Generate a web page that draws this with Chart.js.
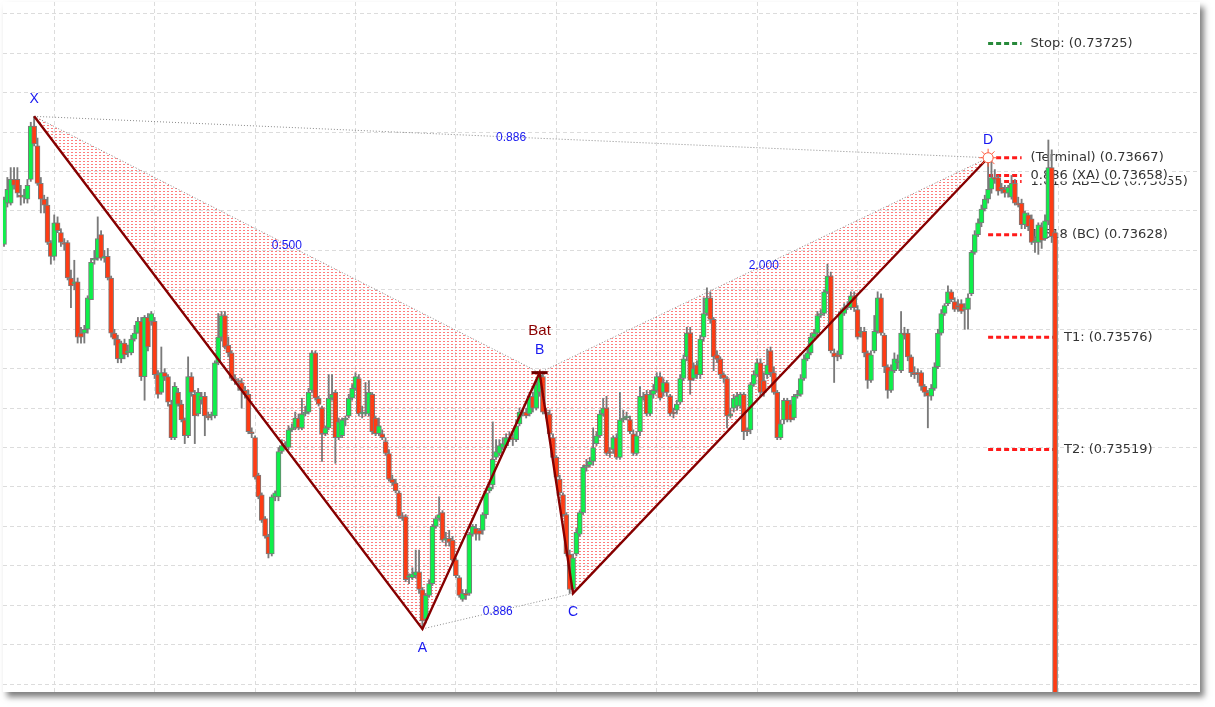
<!DOCTYPE html>
<html>
<head>
<meta charset="utf-8">
<script src="https://cdn.jsdelivr.net/npm/chart.js@4.4.1/dist/chart.umd.min.js"></script>
<style>
  html, body { margin: 0; padding: 0; background: #fff; }
  #frame {
    position: absolute; left: 3px; top: 2px; width: 1197px; height: 690px;
    background: #fff; box-shadow: 4px 5px 6px rgba(0, 0, 0, 0.5);
  }
  canvas { display: block; }
</style>
</head>
<body>
<div id="frame"><canvas id="bat-chart" width="1197" height="690"></canvas></div>
<script>
// candles, one per bar (bar 0 is the left-most one)
let opens = [
  0.73623,0.73644,0.73644,0.73656,0.73656,0.73648,0.73647,0.73646,0.73656,0.73683,
  0.73673,0.73654,0.73646,0.73643,0.73624,0.73617,0.73634,0.73629,0.73624,0.73624,
  0.73606,0.73603,0.73604,0.73578,0.73578,0.73580,0.73595,0.73615,0.73616,0.73628,
  0.73616,0.73617,0.73606,0.73578,0.73575,0.73565,0.73573,0.73568,0.73568,0.73575,
  0.73578,0.73584,0.73556,0.73586,0.73584,0.73584,0.73557,0.73548,0.73558,0.73556,
  0.73542,0.73525,0.73548,0.73542,0.73534,0.73526,0.73556,0.73547,0.73537,0.73544,
  0.73546,0.73536,0.73536,0.73536,0.73563,0.73576,0.73587,0.73572,0.73568,0.73555,
  0.73554,0.73553,0.73549,0.73547,0.73528,0.73525,0.73506,0.73496,0.73484,0.73475,
  0.73466,0.73495,0.73495,0.73518,0.73520,0.73520,0.73529,0.73530,0.73535,0.73530,
  0.73537,0.73538,0.73549,0.73568,0.73545,0.73540,0.73527,0.73530,0.73545,0.73548,
  0.73525,0.73526,0.73534,0.73536,0.73545,0.73550,0.73555,0.73537,0.73537,0.73537,
  0.73547,0.73535,0.73527,0.73527,0.73523,0.73517,0.73504,0.73502,0.73497,0.73485,
  0.73485,0.73454,0.73454,0.73455,0.73457,0.73448,0.73433,0.73445,0.73451,0.73480,
  0.73484,0.73487,0.73473,0.73474,0.73473,0.73463,0.73454,0.73443,0.73446,0.73446,
  0.73476,0.73479,0.73478,0.73478,0.73486,0.73498,0.73501,0.73515,0.73517,0.73520,
  0.73521,0.73524,0.73525,0.73524,0.73532,0.73537,0.73538,0.73537,0.73546,0.73540,
  0.73548,0.73556,0.73538,0.73537,0.73525,0.73515,0.73504,0.73496,0.73486,0.73466,
  0.73448,0.73466,0.73476,0.73487,0.73510,0.73511,0.73513,0.73522,0.73526,0.73537,
  0.73540,0.73518,0.73519,0.73525,0.73515,0.73534,0.73535,0.73534,0.73527,0.73517,
  0.73528,0.73545,0.73547,0.73537,0.73547,0.73549,0.73556,0.73548,0.73553,0.73546,
  0.73538,0.73539,0.73543,0.73555,0.73566,0.73578,0.73555,0.73562,0.73557,0.73576,
  0.73588,0.73596,0.73585,0.73567,0.73565,0.73557,0.73555,0.73536,0.73540,0.73541,
  0.73541,0.73547,0.73529,0.73529,0.73552,0.73557,0.73563,0.73554,0.73557,0.73569,
  0.73558,0.73548,0.73525,0.73534,0.73544,0.73542,0.73535,0.73546,0.73547,0.73555,
  0.73565,0.73568,0.73576,0.73578,0.73587,0.73588,0.73599,0.73607,0.73568,0.73567,
  0.73567,0.73588,0.73591,0.73591,0.73597,0.73590,0.73578,0.73579,0.73568,0.73554,
  0.73569,0.73579,0.73596,0.73577,0.73561,0.73549,0.73559,0.73563,0.73559,0.73578,
  0.73578,0.73566,0.73558,0.73558,0.73558,0.73551,0.73548,0.73546,0.73550,0.73561,
  0.73578,0.73588,0.73593,0.73599,0.73594,0.73592,0.73593,0.73590,0.73590,0.73598,
  0.73619,0.73628,0.73634,0.73641,0.73646,0.73651,0.73657,0.73657,0.73652,0.73651,
  0.73649,0.73647,0.73654,0.73644,0.73644,0.73633,0.73638,0.73636,0.73624,0.73624,
  0.73632,0.73626,0.73635,0.73662,0.73629
];
let highs = [
  0.73647,0.73657,0.73662,0.73662,0.73662,0.73653,0.73651,0.73656,0.73685,0.73688,
  0.73677,0.73657,0.73648,0.73647,0.73625,0.73638,0.73637,0.73631,0.73626,0.73625,
  0.73610,0.73615,0.73606,0.73581,0.73582,0.73597,0.73616,0.73620,0.73637,0.73630,
  0.73620,0.73621,0.73607,0.73580,0.73577,0.73574,0.73575,0.73572,0.73577,0.73582,
  0.73586,0.73586,0.73587,0.73588,0.73589,0.73586,0.73559,0.73571,0.73560,0.73557,
  0.73544,0.73553,0.73550,0.73544,0.73535,0.73566,0.73558,0.73549,0.73550,0.73548,
  0.73548,0.73538,0.73538,0.73564,0.73588,0.73589,0.73589,0.73576,0.73569,0.73557,
  0.73555,0.73555,0.73551,0.73549,0.73530,0.73526,0.73507,0.73497,0.73485,0.73476,
  0.73496,0.73498,0.73520,0.73524,0.73523,0.73531,0.73532,0.73538,0.73537,0.73545,
  0.73541,0.73550,0.73569,0.73569,0.73546,0.73541,0.73531,0.73557,0.73557,0.73549,
  0.73535,0.73535,0.73536,0.73547,0.73552,0.73558,0.73557,0.73541,0.73553,0.73554,
  0.73548,0.73536,0.73535,0.73529,0.73525,0.73519,0.73506,0.73504,0.73498,0.73487,
  0.73486,0.73456,0.73459,0.73468,0.73468,0.73449,0.73446,0.73453,0.73481,0.73485,
  0.73495,0.73488,0.73477,0.73478,0.73475,0.73464,0.73455,0.73448,0.73448,0.73477,
  0.73481,0.73481,0.73479,0.73487,0.73498,0.73502,0.73533,0.73524,0.73524,0.73525,
  0.73527,0.73528,0.73527,0.73534,0.73540,0.73540,0.73540,0.73548,0.73548,0.73554,
  0.73558,0.73558,0.73540,0.73539,0.73527,0.73516,0.73506,0.73497,0.73487,0.73468,
  0.73466,0.73479,0.73488,0.73511,0.73514,0.73515,0.73530,0.73528,0.73539,0.73545,
  0.73546,0.73520,0.73526,0.73527,0.73548,0.73539,0.73538,0.73536,0.73529,0.73528,
  0.73551,0.73548,0.73549,0.73549,0.73552,0.73558,0.73558,0.73555,0.73554,0.73547,
  0.73540,0.73544,0.73557,0.73567,0.73581,0.73581,0.73563,0.73564,0.73577,0.73596,
  0.73601,0.73599,0.73586,0.73569,0.73566,0.73558,0.73556,0.73540,0.73547,0.73548,
  0.73548,0.73548,0.73530,0.73553,0.73559,0.73565,0.73565,0.73558,0.73570,0.73571,
  0.73561,0.73549,0.73534,0.73545,0.73545,0.73544,0.73547,0.73549,0.73557,0.73567,
  0.73570,0.73578,0.73580,0.73589,0.73590,0.73600,0.73613,0.73609,0.73570,0.73569,
  0.73590,0.73593,0.73594,0.73599,0.73599,0.73592,0.73581,0.73581,0.73569,0.73569,
  0.73587,0.73599,0.73598,0.73578,0.73562,0.73562,0.73568,0.73567,0.73589,0.73581,
  0.73580,0.73567,0.73561,0.73560,0.73559,0.73552,0.73549,0.73552,0.73563,0.73580,
  0.73590,0.73593,0.73602,0.73600,0.73596,0.73595,0.73595,0.73593,0.73598,0.73620,
  0.73630,0.73636,0.73643,0.73648,0.73667,0.73666,0.73661,0.73658,0.73654,0.73653,
  0.73653,0.73658,0.73656,0.73647,0.73646,0.73640,0.73639,0.73638,0.73627,0.73634,
  0.73634,0.73638,0.73676,0.73671,0.73630
];
let lows = [
  0.73622,0.73642,0.73643,0.73651,0.73647,0.73643,0.73644,0.73644,0.73655,0.73673,
  0.73653,0.73639,0.73639,0.73623,0.73613,0.73615,0.73629,0.73622,0.73620,0.73605,
  0.73591,0.73600,0.73573,0.73573,0.73573,0.73578,0.73595,0.73613,0.73615,0.73615,
  0.73614,0.73605,0.73576,0.73572,0.73563,0.73563,0.73565,0.73566,0.73567,0.73574,
  0.73578,0.73554,0.73544,0.73569,0.73582,0.73555,0.73545,0.73547,0.73554,0.73541,
  0.73524,0.73524,0.73541,0.73533,0.73522,0.73525,0.73546,0.73522,0.73536,0.73542,
  0.73526,0.73534,0.73534,0.73535,0.73562,0.73574,0.73570,0.73566,0.73554,0.73552,
  0.73549,0.73540,0.73545,0.73527,0.73525,0.73504,0.73494,0.73482,0.73474,0.73464,
  0.73465,0.73493,0.73493,0.73517,0.73519,0.73519,0.73528,0.73529,0.73529,0.73529,
  0.73536,0.73537,0.73548,0.73544,0.73541,0.73513,0.73526,0.73529,0.73544,0.73512,
  0.73524,0.73525,0.73531,0.73535,0.73544,0.73549,0.73536,0.73535,0.73536,0.73536,
  0.73527,0.73526,0.73526,0.73524,0.73516,0.73503,0.73501,0.73497,0.73484,0.73483,
  0.73452,0.73451,0.73453,0.73454,0.73446,0.73428,0.73431,0.73444,0.73450,0.73479,
  0.73483,0.73472,0.73470,0.73470,0.73462,0.73454,0.73444,0.73442,0.73443,0.73445,
  0.73475,0.73473,0.73473,0.73476,0.73484,0.73497,0.73499,0.73514,0.73516,0.73519,
  0.73520,0.73523,0.73521,0.73523,0.73531,0.73536,0.73535,0.73536,0.73538,0.73539,
  0.73546,0.73537,0.73535,0.73526,0.73514,0.73503,0.73496,0.73485,0.73465,0.73446,
  0.73446,0.73465,0.73475,0.73486,0.73508,0.73510,0.73511,0.73521,0.73525,0.73536,
  0.73516,0.73515,0.73517,0.73514,0.73514,0.73533,0.73534,0.73527,0.73516,0.73516,
  0.73526,0.73544,0.73536,0.73536,0.73545,0.73548,0.73544,0.73546,0.73546,0.73536,
  0.73535,0.73537,0.73542,0.73554,0.73564,0.73547,0.73554,0.73555,0.73555,0.73574,
  0.73587,0.73583,0.73559,0.73563,0.73555,0.73553,0.73530,0.73535,0.73538,0.73539,
  0.73540,0.73524,0.73526,0.73527,0.73551,0.73556,0.73546,0.73546,0.73555,0.73556,
  0.73547,0.73524,0.73524,0.73532,0.73533,0.73533,0.73534,0.73545,0.73546,0.73554,
  0.73564,0.73567,0.73575,0.73576,0.73586,0.73587,0.73598,0.73568,0.73553,0.73564,
  0.73565,0.73587,0.73590,0.73590,0.73589,0.73575,0.73576,0.73566,0.73550,0.73553,
  0.73568,0.73578,0.73577,0.73558,0.73545,0.73548,0.73558,0.73560,0.73558,0.73575,
  0.73564,0.73556,0.73555,0.73553,0.73549,0.73546,0.73530,0.73544,0.73549,0.73560,
  0.73577,0.73587,0.73592,0.73594,0.73589,0.73589,0.73588,0.73580,0.73580,0.73597,
  0.73618,0.73627,0.73632,0.73640,0.73644,0.73649,0.73654,0.73648,0.73649,0.73647,
  0.73647,0.73646,0.73643,0.73642,0.73631,0.73631,0.73630,0.73623,0.73619,0.73618,
  0.73621,0.73625,0.73633,0.73624,0.73300
];
let closes = [
  0.73646,0.73651,0.73656,0.73653,0.73649,0.73647,0.73648,0.73653,0.73683,0.73674,
  0.73654,0.73646,0.73643,0.73624,0.73617,0.73634,0.73630,0.73624,0.73623,0.73606,
  0.73602,0.73604,0.73576,0.73576,0.73580,0.73596,0.73614,0.73616,0.73626,0.73616,
  0.73617,0.73606,0.73578,0.73575,0.73565,0.73573,0.73567,0.73569,0.73575,0.73578,
  0.73584,0.73556,0.73586,0.73571,0.73588,0.73557,0.73547,0.73558,0.73556,0.73543,
  0.73525,0.73551,0.73542,0.73534,0.73526,0.73556,0.73548,0.73536,0.73548,0.73546,
  0.73536,0.73535,0.73537,0.73563,0.73576,0.73587,0.73571,0.73568,0.73555,0.73554,
  0.73553,0.73549,0.73547,0.73528,0.73527,0.73505,0.73495,0.73483,0.73475,0.73466,
  0.73495,0.73497,0.73518,0.73521,0.73521,0.73529,0.73530,0.73535,0.73530,0.73537,
  0.73538,0.73548,0.73568,0.73545,0.73542,0.73527,0.73530,0.73545,0.73547,0.73525,
  0.73533,0.73534,0.73535,0.73545,0.73550,0.73556,0.73537,0.73538,0.73538,0.73548,
  0.73528,0.73527,0.73531,0.73525,0.73517,0.73504,0.73502,0.73498,0.73485,0.73484,
  0.73453,0.73455,0.73456,0.73457,0.73448,0.73432,0.73445,0.73451,0.73480,0.73484,
  0.73486,0.73473,0.73474,0.73472,0.73463,0.73455,0.73445,0.73446,0.73445,0.73476,
  0.73480,0.73476,0.73476,0.73486,0.73497,0.73500,0.73514,0.73518,0.73521,0.73522,
  0.73525,0.73525,0.73524,0.73531,0.73538,0.73538,0.73536,0.73546,0.73540,0.73552,
  0.73557,0.73538,0.73537,0.73527,0.73515,0.73505,0.73497,0.73486,0.73466,0.73448,
  0.73464,0.73477,0.73487,0.73510,0.73511,0.73513,0.73520,0.73526,0.73537,0.73540,
  0.73517,0.73517,0.73525,0.73515,0.73534,0.73535,0.73536,0.73528,0.73517,0.73526,
  0.73546,0.73546,0.73537,0.73547,0.73549,0.73556,0.73545,0.73553,0.73548,0.73537,
  0.73537,0.73542,0.73555,0.73565,0.73578,0.73554,0.73560,0.73557,0.73575,0.73588,
  0.73596,0.73585,0.73566,0.73565,0.73557,0.73555,0.73536,0.73537,0.73545,0.73546,
  0.73547,0.73528,0.73528,0.73552,0.73557,0.73563,0.73548,0.73548,0.73562,0.73558,
  0.73548,0.73525,0.73532,0.73544,0.73534,0.73534,0.73546,0.73547,0.73555,0.73565,
  0.73568,0.73576,0.73578,0.73587,0.73588,0.73599,0.73607,0.73569,0.73566,0.73566,
  0.73589,0.73591,0.73592,0.73597,0.73591,0.73576,0.73579,0.73568,0.73554,0.73567,
  0.73579,0.73596,0.73578,0.73561,0.73549,0.73559,0.73565,0.73564,0.73578,0.73577,
  0.73566,0.73558,0.73557,0.73557,0.73551,0.73548,0.73546,0.73550,0.73561,0.73578,
  0.73588,0.73592,0.73599,0.73595,0.73590,0.73591,0.73589,0.73591,0.73596,0.73619,
  0.73628,0.73634,0.73641,0.73646,0.73651,0.73657,0.73656,0.73650,0.73651,0.73649,
  0.73652,0.73654,0.73644,0.73643,0.73633,0.73639,0.73632,0.73624,0.73625,0.73633,
  0.73625,0.73635,0.73662,0.73627,0.73300
];

// harmonic pattern points
let pointNames = ['X', 'A', 'B', 'C', 'D'];
let pointBars = [9, 125, 160, 170, 294];
let pointPrices = [0.73688, 0.73428, 0.73558, 0.73446, 0.73667];
let patternName = 'Bat';

// dotted legs (from point, to point) and the ratio written on each
let ratioLegs = [[0, 2], [1, 3], [2, 4], [0, 4]];
let ratioTexts = ['0.500', '0.886', '2.000', '0.886'];

// price levels on the right
let levelNames = ['Stop:', '(Terminal)', '1.618 AB=CD', '0.886 (XA)', '1.618 (BC)', 'T1:', 'T2:'];
let levelPrices = [0.73725, 0.73667, 0.73655, 0.73658, 0.73628, 0.73576, 0.73519];
let levelEndBars = [304, 304, 304, 304, 304, 314, 314];

// grid
let gridBars = [15, 45, 75, 105, 135, 165, 195, 225, 255, 285, 315];
let gridPrices = [0.7340, 0.7342, 0.7344, 0.7346, 0.7348, 0.7350, 0.7352, 0.7354, 0.7356,
                  0.7358, 0.7360, 0.7362, 0.7364, 0.7366, 0.7368, 0.7370, 0.7372, 0.7374];

let upColor = '#0ef04a';
let downColor = '#ff3c14';
let wickColor = '#7a7a7a';
let legColor = '#860000';
let blue = '#1818f0';

function hatch() {
  let c = document.createElement('canvas');
  c.width = 4;
  c.height = 3;
  let g = c.getContext('2d');
  g.fillStyle = 'rgba(255,70,70,0.7)';
  g.fillRect(0, 0, 2, 1);
  return g.createPattern(c, 'repeat');
}

let pt = i => ({x: pointBars[i], y: pointPrices[i]});

let wicks = [], bodies = [], bodyColors = [];
for (let i = 0; i < opens.length; i++) {
  wicks.push({x: i, y: [lows[i], highs[i]]});
  bodies.push({x: i, y: [opens[i], closes[i]]});
  bodyColors.push(closes[i] > opens[i] ? upColor : downColor);
}

let datasets = [];

// shaded triangles XAB and BCD
[[0, 1, 2], [2, 3, 4]].forEach(tri => {
  datasets.push({
    type: 'line', data: tri.map(pt), fill: 'shape', backgroundColor: hatch(),
    borderWidth: 0, pointRadius: 0, order: 10
  });
});

// level lines
levelNames.forEach((name, i) => {
  datasets.push({
    type: 'line',
    data: [{x: pointBars[4], y: levelPrices[i]}, {x: levelEndBars[i], y: levelPrices[i]}],
    borderColor: i == 0 ? '#27893a' : '#ff1a1a', borderWidth: 3, borderDash: [5, 3],
    pointRadius: 0, fill: false, order: 8
  });
});

datasets.push({
  type: 'bar', data: wicks, backgroundColor: wickColor, borderWidth: 0,
  barThickness: 1.2, grouped: false, order: 6
});
datasets.push({
  type: 'bar', data: bodies, backgroundColor: bodyColors, borderColor: wickColor,
  borderWidth: 1, borderSkipped: false, barThickness: 5, grouped: false, order: 5
});

// dotted legs
ratioLegs.forEach(leg => {
  datasets.push({
    type: 'line', data: leg.map(pt), borderColor: '#8a8a8a', borderWidth: 1,
    borderDash: [1, 2], pointRadius: 0, fill: false, order: 3
  });
});

// X-A-B-C-D
datasets.push({
  type: 'line', data: pointNames.map((n, i) => pt(i)), borderColor: legColor,
  borderWidth: 2.4, pointRadius: 0, fill: false, order: 2
});

// mark at B
datasets.push({
  type: 'line',
  data: [{x: pointBars[2] - 2.4, y: pointPrices[2]}, {x: pointBars[2] + 2.4, y: pointPrices[2]}],
  borderColor: '#700000', borderWidth: 3, pointRadius: 0, fill: false, order: 2
});

// sun marker at D
datasets.push({
  type: 'line', data: [pt(4)], showLine: false, pointStyle: 'star', pointRadius: 9,
  pointBorderColor: '#ff5a3c', pointBorderWidth: 1, pointBackgroundColor: 'transparent', order: 1
});
datasets.push({
  type: 'line', data: [pt(4)], showLine: false, pointStyle: 'circle', pointRadius: 5,
  pointBorderColor: '#ff5a3c', pointBorderWidth: 1, pointBackgroundColor: '#fff', order: 0
});

let textPlugin = {
  id: 'patternText',
  beforeDatasetsDraw(chart) {
    let {ctx, scales: {x, y}} = chart;
    ctx.save();
    ctx.font = '13px "DejaVu Sans"';
    ctx.textBaseline = 'middle';
    levelNames.forEach((name, i) => {
      let text = name + ' (' + levelPrices[i].toFixed(5) + ')';
      let px = x.getPixelForValue(levelEndBars[i]) + 9;
      let py = y.getPixelForValue(levelPrices[i]);
      if (name == '0.886 (XA)') {
        ctx.fillStyle = '#fff';
        ctx.fillRect(px - 1, py - 7, ctx.measureText(text).width + 2, 13);
      }
      ctx.fillStyle = '#333';
      ctx.fillText(text, px, py);
    });
    ctx.restore();
  },
  afterDatasetsDraw(chart) {
    let {ctx, scales: {x, y}} = chart;
    ctx.save();
    ctx.textAlign = 'center';
    ctx.textBaseline = 'middle';
    ctx.fillStyle = blue;
    ctx.font = '12px "Liberation Sans"';
    ratioLegs.forEach((leg, i) => {
      let a = pt(leg[0]), b = pt(leg[1]);
      let px = (x.getPixelForValue(a.x) + x.getPixelForValue(b.x)) / 2;
      let py = (y.getPixelForValue(a.y) + y.getPixelForValue(b.y)) / 2;
      ctx.fillText(ratioTexts[i], px, py + 1);
    });
    let offsets = [-17, 19, -22, 19, -18];
    ctx.font = '14px "Liberation Sans"';
    pointNames.forEach((name, i) => {
      ctx.fillText(name, x.getPixelForValue(pointBars[i]), y.getPixelForValue(pointPrices[i]) + offsets[i]);
    });
    ctx.fillStyle = '#8b0000';
    ctx.font = '15px "Liberation Sans"';
    ctx.fillText(patternName, x.getPixelForValue(pointBars[2]), y.getPixelForValue(pointPrices[2]) - 42);
    ctx.restore();
  }
};

new Chart(document.getElementById('bat-chart'), {
  type: 'bar',
  data: { datasets: datasets },
  options: {
    responsive: false,
    animation: false,
    events: [],
    layout: { padding: 0, autoPadding: false },
    plugins: { legend: { display: false }, tooltip: { enabled: false } },
    scales: {
      x: {
        type: 'linear', min: -0.3, max: 357.3, offset: false,
        ticks: { display: false },
        grid: { color: '#dcdcdc', drawTicks: false, offset: false },
        border: { display: false, dash: [4, 3] },
        afterBuildTicks: axis => { axis.ticks = gridBars.map(v => ({value: v})); }
      },
      y: {
        type: 'linear', min: 0.73396, max: 0.73746,
        ticks: { display: false },
        grid: { color: '#dcdcdc', drawTicks: false, offset: false },
        border: { display: false, dash: [4, 3] },
        afterBuildTicks: axis => { axis.ticks = gridPrices.map(v => ({value: v})); }
      }
    }
  },
  plugins: [textPlugin]
});
</script>
</body>
</html>
